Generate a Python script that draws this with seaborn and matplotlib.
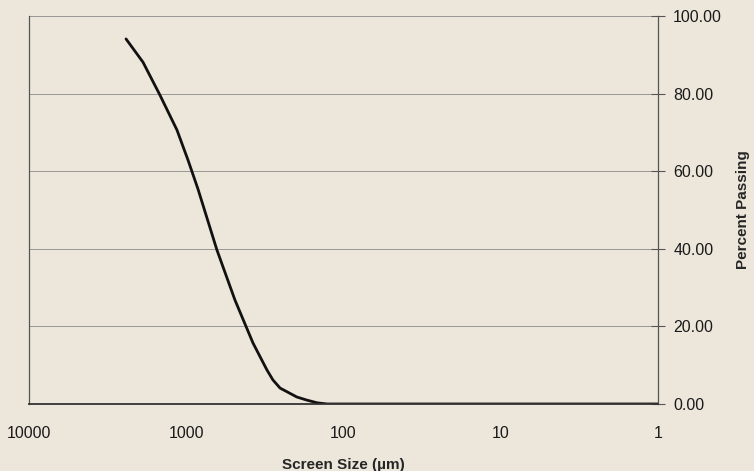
import numpy as np
import pandas as pd
import matplotlib
matplotlib.use("Agg")
import matplotlib.pyplot as plt
import seaborn as sns
from matplotlib.ticker import FixedLocator, FuncFormatter, NullLocator

# screen size (um) and cumulative percent passing
screen_size = [2416, 1884, 1469, 1145, 975, 842, 638, 490, 436, 376, 307, 281,
               253, 198, 171, 147, 127, 100, 10, 1]
percent_passing = [94.1, 88.1, 79.6, 70.6, 62.9, 55.4, 39.7, 26.8, 21.9, 15.7, 8.8, 6.2,
                   4.1, 1.8, 1.0, 0.3, 0.0, 0.0, 0.0, 0.0]
x_ticks = [10000, 1000, 100, 10, 1]
y_ticks = [0, 20, 40, 60, 80, 100]

df = pd.DataFrame({"size": screen_size, "passing": percent_passing})

sns.set_style("white")
plt.rcParams["font.family"] = ["Liberation Sans", "DejaVu Sans"]
bg = "#ede7db"

fig = plt.figure(figsize=(7.54, 4.71), dpi=100, facecolor=bg)
ax = fig.add_axes([0.0385, 0.1423, 0.834, 0.8237])
ax.set_facecolor(bg)

sns.lineplot(data=df, x="size", y="passing", color="#111111", linewidth=2.0, ax=ax)

ax.set_xscale("log")
ax.set_xlim(10000, 1)
ax.set_ylim(0, 100)
ax.xaxis.set_major_locator(FixedLocator(x_ticks))
ax.xaxis.set_minor_locator(NullLocator())
ax.xaxis.set_major_formatter(FuncFormatter(lambda v, p: f"{v:g}"))
ax.set_yticks(y_ticks)
ax.yaxis.set_major_formatter(FuncFormatter(lambda v, p: f"{v:.2f}"))
ax.yaxis.tick_right()
ax.yaxis.set_label_position("right")

for y in y_ticks[1:]:
    ax.axhline(y, color="#8a8a8a", linewidth=0.6, zorder=0)

for s in ax.spines.values():
    s.set_color("#555555")
    s.set_linewidth(0.9)
ax.spines["top"].set_visible(False)
ax.spines["bottom"].set_color("#333333")
ax.spines["bottom"].set_linewidth(1.3)

ax.tick_params(axis="x", direction="out", length=4, pad=12, labelsize=11.5, color="#555555",
               labelcolor="#1a1a1a")
ax.tick_params(axis="y", direction="inout", length=10, pad=6, labelsize=11.5, color="#555555",
               labelcolor="#1a1a1a")

ax.set_xlabel("Screen Size (µm)", fontsize=11, fontweight="bold", labelpad=12)
ax.set_ylabel("Percent Passing", fontsize=11, fontweight="bold", labelpad=10)

fig.savefig("out.png", dpi=100, facecolor=bg)
